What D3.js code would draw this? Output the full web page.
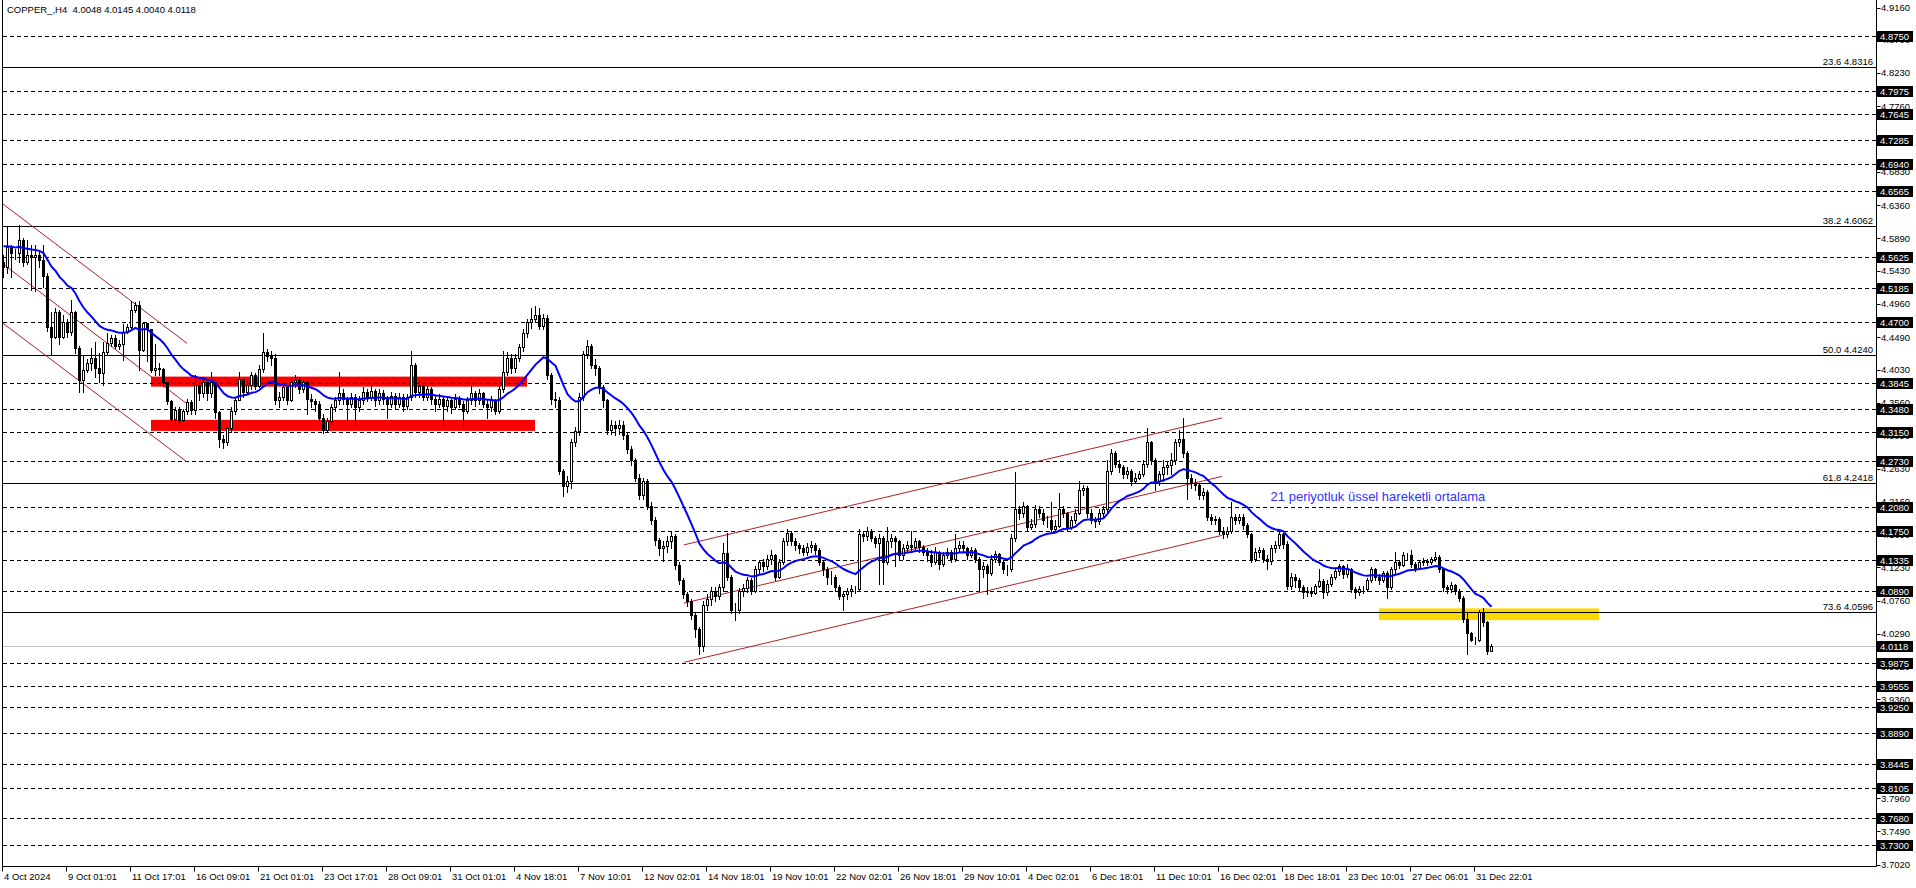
<!DOCTYPE html>
<html><head><meta charset="utf-8">
<script src="https://cdn.jsdelivr.net/npm/d3@7"></script>
<style>html,body{margin:0;padding:0;background:#fff;overflow:hidden}text{font-family:"Liberation Sans",Arial,sans-serif}</style>
</head><body><svg id="c" width="1916" height="888"></svg>
<script>
// ---- DATA (COPPER_, H4) ----
const firstOpen = 4.556;
const closes = [
4.548,4.577,4.568,4.568,4.586,4.556,4.565,4.563,4.566,4.559,4.536,4.464,4.450,4.485,4.450,4.471,4.456,4.484,4.434,4.389,
4.403,4.413,4.420,4.405,4.399,4.428,4.441,4.448,4.437,4.440,4.457,4.464,4.488,4.495,4.431,4.469,4.460,4.403,4.405,4.404,
4.386,4.359,4.333,4.346,4.332,4.344,4.357,4.346,4.381,4.370,4.385,4.370,4.386,4.343,4.305,4.300,4.320,4.345,4.360,4.390,
4.372,4.382,4.396,4.380,4.404,4.428,4.423,4.420,4.360,4.365,4.378,4.360,4.385,4.388,4.376,4.385,4.362,4.358,4.355,4.335,
4.318,4.330,4.350,4.360,4.370,4.362,4.355,4.365,4.350,4.360,4.372,4.365,4.373,4.360,4.370,4.362,4.355,4.366,4.355,4.365,
4.352,4.364,4.410,4.372,4.380,4.365,4.375,4.362,4.355,4.362,4.352,4.360,4.350,4.362,4.355,4.345,4.360,4.370,4.360,4.370,
4.355,4.350,4.360,4.345,4.375,4.400,4.420,4.405,4.420,4.435,4.455,4.470,4.475,4.480,4.465,4.476,4.395,4.362,4.360,4.260,
4.238,4.245,4.300,4.316,4.365,4.425,4.436,4.410,4.405,4.378,4.360,4.318,4.325,4.320,4.325,4.310,4.290,4.275,4.250,4.225,
4.245,4.210,4.190,4.162,4.150,4.153,4.160,4.168,4.127,4.105,4.085,4.075,4.055,4.035,4.012,4.070,4.078,4.090,4.083,4.095,
4.143,4.110,4.063,4.062,4.090,4.094,4.105,4.090,4.120,4.130,4.125,4.135,4.140,4.110,4.130,4.160,4.172,4.160,4.155,4.150,
4.145,4.152,4.155,4.148,4.130,4.120,4.110,4.110,4.095,4.082,4.085,4.090,4.093,4.092,4.170,4.168,4.175,4.165,4.158,4.165,
4.130,4.160,4.165,4.160,4.140,4.150,4.155,4.152,4.160,4.152,4.145,4.140,4.130,4.145,4.128,4.140,4.145,4.135,4.150,4.155,
4.150,4.140,4.148,4.135,4.120,4.125,4.115,4.135,4.142,4.130,4.120,4.120,4.165,4.205,4.200,4.210,4.180,4.185,4.205,4.200,
4.190,4.190,4.178,4.182,4.205,4.200,4.180,4.190,4.200,4.232,4.235,4.200,4.190,4.188,4.200,4.205,4.260,4.285,4.270,4.265,
4.255,4.260,4.245,4.250,4.255,4.270,4.300,4.275,4.245,4.255,4.265,4.268,4.275,4.300,4.305,4.285,4.250,4.243,4.240,4.225,
4.230,4.195,4.190,4.192,4.175,4.170,4.175,4.195,4.190,4.195,4.183,4.170,4.135,4.145,4.148,4.135,4.132,4.150,4.155,4.170,
4.156,4.097,4.110,4.105,4.095,4.088,4.090,4.087,4.097,4.103,4.088,4.100,4.110,4.118,4.125,4.113,4.120,4.092,4.088,4.092,
4.093,4.105,4.120,4.110,4.105,4.115,4.095,4.120,4.130,4.127,4.140,4.140,4.128,4.122,4.130,4.132,4.130,4.135,4.138,4.120,
4.095,4.092,4.098,4.090,4.080,4.050,4.030,4.020,4.020,4.060,4.045,4.0048,4.0118];
const highs = [
4.566,4.605,4.580,4.574,4.608,4.590,4.587,4.580,4.580,4.572,4.580,4.540,4.485,4.490,4.488,4.480,4.475,4.502,4.486,4.436,
4.424,4.418,4.434,4.442,4.426,4.442,4.455,4.452,4.452,4.445,4.467,4.468,4.500,4.499,4.500,4.470,4.468,4.460,4.440,4.412,
4.405,4.385,4.360,4.350,4.350,4.348,4.362,4.360,4.395,4.385,4.392,4.380,4.400,4.386,4.345,4.310,4.325,4.350,4.365,4.400,
4.390,4.388,4.400,4.398,4.410,4.455,4.432,4.430,4.425,4.372,4.385,4.380,4.390,4.395,4.392,4.390,4.388,4.368,4.362,4.358,
4.340,4.335,4.355,4.365,4.400,4.375,4.365,4.370,4.368,4.366,4.378,4.375,4.382,4.376,4.376,4.374,4.366,4.372,4.370,4.370,
4.368,4.368,4.430,4.412,4.388,4.384,4.380,4.378,4.366,4.368,4.365,4.365,4.362,4.368,4.366,4.358,4.364,4.380,4.373,4.375,
4.372,4.360,4.366,4.362,4.380,4.430,4.428,4.425,4.425,4.440,4.460,4.475,4.490,4.493,4.490,4.482,4.480,4.398,4.372,4.365,
4.262,4.252,4.305,4.322,4.370,4.430,4.445,4.440,4.418,4.408,4.382,4.362,4.332,4.330,4.332,4.330,4.315,4.295,4.278,4.255,
4.250,4.248,4.215,4.195,4.165,4.160,4.168,4.175,4.170,4.130,4.108,4.088,4.078,4.058,4.038,4.075,4.085,4.095,4.095,4.100,
4.157,4.171,4.112,4.072,4.094,4.100,4.110,4.108,4.125,4.134,4.135,4.140,4.148,4.142,4.135,4.165,4.177,4.175,4.165,4.158,
4.155,4.158,4.160,4.158,4.150,4.133,4.124,4.118,4.112,4.098,4.090,4.094,4.098,4.097,4.178,4.175,4.180,4.178,4.168,4.170,
4.168,4.180,4.170,4.168,4.162,4.156,4.160,4.175,4.165,4.162,4.155,4.150,4.148,4.152,4.146,4.145,4.150,4.148,4.170,4.160,
4.160,4.152,4.152,4.150,4.138,4.130,4.128,4.140,4.146,4.144,4.134,4.126,4.170,4.258,4.210,4.215,4.212,4.192,4.212,4.210,
4.205,4.196,4.215,4.190,4.228,4.210,4.202,4.196,4.205,4.245,4.240,4.238,4.205,4.195,4.205,4.210,4.275,4.290,4.288,4.275,
4.268,4.265,4.262,4.256,4.260,4.275,4.320,4.302,4.278,4.260,4.275,4.272,4.285,4.305,4.318,4.334,4.288,4.255,4.248,4.242,
4.236,4.232,4.198,4.196,4.195,4.180,4.180,4.215,4.198,4.198,4.198,4.186,4.172,4.150,4.152,4.150,4.140,4.155,4.160,4.175,
4.172,4.160,4.115,4.114,4.108,4.098,4.095,4.095,4.100,4.120,4.106,4.105,4.114,4.122,4.128,4.127,4.128,4.122,4.095,4.096,
4.097,4.108,4.124,4.122,4.113,4.118,4.118,4.124,4.145,4.134,4.145,4.144,4.148,4.130,4.133,4.136,4.135,4.138,4.145,4.140,
4.122,4.098,4.102,4.100,4.092,4.082,4.060,4.032,4.025,4.063,4.066,4.047,4.0145];
const lows = [
4.534,4.540,4.534,4.560,4.556,4.550,4.552,4.516,4.514,4.548,4.520,4.458,4.424,4.448,4.440,4.448,4.450,4.452,4.427,4.371,
4.371,4.400,4.403,4.393,4.386,4.381,4.425,4.437,4.434,4.432,4.417,4.455,4.462,4.484,4.403,4.430,4.415,4.400,4.395,4.396,
4.380,4.355,4.330,4.328,4.327,4.330,4.340,4.340,4.340,4.360,4.365,4.360,4.365,4.335,4.293,4.292,4.296,4.315,4.340,4.360,
4.365,4.368,4.375,4.375,4.378,4.400,4.415,4.410,4.355,4.350,4.360,4.355,4.358,4.378,4.370,4.372,4.340,4.350,4.345,4.330,
4.313,4.315,4.326,4.345,4.355,4.355,4.330,4.350,4.325,4.345,4.355,4.358,4.360,4.352,4.355,4.355,4.335,4.350,4.348,4.350,
4.345,4.348,4.360,4.365,4.365,4.360,4.360,4.355,4.345,4.350,4.323,4.345,4.342,4.348,4.350,4.323,4.342,4.355,4.352,4.355,
4.350,4.335,4.345,4.340,4.342,4.372,4.395,4.398,4.400,4.415,4.430,4.450,4.462,4.470,4.460,4.460,4.390,4.355,4.350,4.255,
4.224,4.230,4.235,4.295,4.310,4.360,4.420,4.405,4.395,4.370,4.350,4.312,4.312,4.310,4.312,4.305,4.285,4.268,4.245,4.220,
4.220,4.205,4.185,4.155,4.140,4.132,4.145,4.150,4.120,4.100,4.080,4.068,4.050,4.025,4.000,4.005,4.062,4.070,4.075,4.078,
4.090,4.105,4.058,4.048,4.058,4.082,4.088,4.085,4.088,4.115,4.118,4.120,4.128,4.105,4.108,4.128,4.155,4.155,4.148,4.143,
4.140,4.140,4.145,4.142,4.126,4.112,4.100,4.100,4.090,4.078,4.062,4.078,4.083,4.086,4.090,4.160,4.162,4.160,4.152,4.100,
4.100,4.128,4.152,4.125,4.135,4.135,4.145,4.148,4.148,4.145,4.140,4.132,4.125,4.128,4.120,4.125,4.136,4.130,4.132,4.145,
4.145,4.135,4.138,4.130,4.090,4.110,4.085,4.112,4.130,4.126,4.115,4.112,4.118,4.160,4.192,4.195,4.176,4.178,4.180,4.195,
4.185,4.180,4.172,4.175,4.180,4.195,4.176,4.178,4.186,4.198,4.225,4.195,4.186,4.180,4.185,4.195,4.200,4.255,4.265,4.258,
4.250,4.250,4.240,4.242,4.248,4.252,4.265,4.270,4.232,4.240,4.245,4.255,4.255,4.270,4.295,4.280,4.220,4.236,4.232,4.220,
4.220,4.190,4.184,4.185,4.170,4.165,4.166,4.172,4.185,4.186,4.178,4.166,4.130,4.132,4.138,4.130,4.120,4.128,4.145,4.150,
4.150,4.092,4.092,4.095,4.090,4.080,4.082,4.082,4.085,4.095,4.080,4.084,4.096,4.106,4.112,4.108,4.110,4.088,4.080,4.084,
4.086,4.090,4.102,4.105,4.100,4.102,4.080,4.092,4.115,4.122,4.125,4.134,4.124,4.118,4.120,4.126,4.126,4.128,4.132,4.116,
4.090,4.086,4.088,4.085,4.076,4.045,4.000,4.018,4.015,4.018,4.040,4.000,4.0040];

const emaPeriod = 21;
const emaSeed = 4.578;

const dashedLevels = [4.8750,4.7975,4.7645,4.7285,4.6940,4.6565,4.5625,4.5185,4.4700,4.3845,4.3480,4.3150,4.2730,4.2080,4.1750,4.1335,4.0890,3.9875,3.9555,3.9250,3.8890,3.8445,3.8105,3.7680,3.7300];
const currentPrice = 4.0118;
const fibLevels = ["23.6","38.2","50.0","61.8","73.6"];
const fibPrices = [4.8316,4.6062,4.4240,4.2418,4.0596];
const axisTicks = [4.9160,4.8700,4.8230,4.7760,4.7290,4.6830,4.6360,4.5890,4.5430,4.4960,4.4490,4.4030,4.3560,4.3090,4.2630,4.2160,4.1690,4.1230,4.0760,4.0290,3.9820,3.9360,3.8890,3.8420,3.7960,3.7490,3.7020];
const dateLabels = ["4 Oct 2024","9 Oct 01:01","11 Oct 17:01","16 Oct 09:01","21 Oct 01:01","23 Oct 17:01","28 Oct 09:01","31 Oct 01:01","4 Nov 18:01","7 Nov 10:01","12 Nov 02:01","14 Nov 18:01","19 Nov 10:01","22 Nov 02:01","26 Nov 18:01","29 Nov 10:01","4 Dec 02:01","6 Dec 18:01","11 Dec 10:01","16 Dec 02:01","18 Dec 18:01","23 Dec 10:01","27 Dec 06:01","31 Dec 22:01"];
const dateLabelStep = 16;
// zones: [barStart, barEnd, priceTop, priceBottom]
const redZones = [[37,131,4.3932,4.3790],[37,133,4.3319,4.3163]];
const yellowZone = [344,399,4.0649,4.0483];
// channels: [bar0, price0, bar1, price1]
const downChannel = [[-0.25,4.6387,46,4.4405],[-0.25,4.5538,46,4.3546],[-0.25,4.4697,46,4.2724]];
const upChannel = [[170.25,4.1549,304.75,4.3347],[170.25,4.0723,304.75,4.2518],[170.25,3.9885,304.75,4.1683]];
const annotation = {bar:316.9, price:4.2167, text:"21 periyotluk üssel hareketli ortalama"};
const titleText = "COPPER_,H4  4.0048 4.0145 4.0040 4.0118";

// ---- BUILD ----
const bars = closes.map((c,i)=>{
  const o = i===0 ? firstOpen : closes[i-1];
  return {i, o, c, h:Math.max(highs[i],o,c), l:Math.min(lows[i],o,c)};
});
const alpha = 2/(emaPeriod+1);
let e = emaSeed;
const ema = closes.map((c,i)=>{ e = i===0 ? emaSeed : e + alpha*(c-e); return {i, v:e}; });

const W=1916,H=888, plotL=2.5, plotR=1876.5, plotB=866.5;
const x = d3.scaleLinear().domain([0,372]).range([3,1491]);
const y = d3.scaleLinear().domain([4.916,3.702]).range([7.5,864.6]);
const svg = d3.select("#c");
svg.append("rect").attr("width",W).attr("height",H).attr("fill","#fff");
const plot = svg.append("g");
const py = p => Math.round(y(p))+0.5;

// zones
plot.selectAll(".rz").data(redZones).join("rect")
  .attr("x",d=>x(d[0])).attr("width",d=>x(d[1])-x(d[0]))
  .attr("y",d=>y(d[2])).attr("height",d=>y(d[3])-y(d[2])).attr("fill","#ff0000");
plot.append("rect").datum(yellowZone)
  .attr("x",d=>x(d[0])).attr("width",d=>x(d[1])-x(d[0]))
  .attr("y",d=>y(d[2])).attr("height",d=>y(d[3])-y(d[2])).attr("fill","#ffd700");

// horizontal lines
plot.selectAll(".dl").data(dashedLevels).join("line")
  .attr("x1",plotL).attr("x2",plotR).attr("y1",py).attr("y2",py)
  .attr("stroke","#000").attr("stroke-width",1).attr("stroke-dasharray","4,3").attr("shape-rendering","crispEdges");
plot.append("line").attr("x1",plotL).attr("x2",plotR).attr("y1",py(currentPrice)).attr("y2",py(currentPrice))
  .attr("stroke","#c0c0c0").attr("shape-rendering","crispEdges");
plot.selectAll(".fl").data(fibPrices).join("line")
  .attr("x1",plotL).attr("x2",plotR).attr("y1",py).attr("y2",py)
  .attr("stroke","#000").attr("stroke-width",1).attr("shape-rendering","crispEdges");
plot.selectAll(".ft").data(fibPrices).join("text")
  .attr("x",1873).attr("y",d=>py(d)-2.5).attr("text-anchor","end")
  .attr("font-size","9.5px").attr("fill","#000").text((d,i)=>fibLevels[i]+" "+d.toFixed(4));

// channels
plot.selectAll(".ch").data(downChannel.concat(upChannel)).join("line")
  .attr("x1",d=>x(d[0])).attr("y1",d=>y(d[1])).attr("x2",d=>x(d[2])).attr("y2",d=>y(d[3]))
  .attr("stroke","#b22222").attr("stroke-width",1);

// candles
const cg = plot.append("g").attr("shape-rendering","crispEdges");
cg.selectAll(".w").data(bars).join("line")
  .attr("x1",d=>Math.round(x(d.i))+0.5).attr("x2",d=>Math.round(x(d.i))+0.5)
  .attr("y1",d=>Math.round(y(d.h))).attr("y2",d=>Math.round(y(d.l))+1)
  .attr("stroke","#000");
cg.selectAll(".b").data(bars).join("rect")
  .attr("x",d=>Math.round(x(d.i))-0.5).attr("width",2)
  .attr("y",d=>Math.round(y(Math.max(d.o,d.c)))+0.5)
  .attr("height",d=>Math.max(0,Math.round(y(Math.min(d.o,d.c)))-Math.round(y(Math.max(d.o,d.c)))))
  .attr("fill",d=>d.c>=d.o?"#fff":"#000").attr("stroke","#000").attr("stroke-width",1);

// EMA
plot.append("path").datum(ema)
  .attr("d",d3.line().x(d=>x(d.i)+0.5).y(d=>y(d.v)))
  .attr("fill","none").attr("stroke","#0000ff").attr("stroke-width",2);

// annotation
plot.append("text").attr("x",x(annotation.bar)).attr("y",y(annotation.price))
  .attr("font-size","13px").attr("fill","#3232ff").text(annotation.text);

// frame
svg.append("line").attr("x1",plotL).attr("x2",plotL).attr("y1",0).attr("y2",plotB).attr("stroke","#000");
svg.append("line").attr("x1",plotR).attr("x2",plotR).attr("y1",0).attr("y2",plotB).attr("stroke","#000");
svg.append("line").attr("x1",plotL).attr("x2",plotR).attr("y1",plotB).attr("y2",plotB).attr("stroke","#000");

// right axis ticks
const ax = svg.append("g");
ax.selectAll(".tk").data(axisTicks).join("line")
  .attr("x1",plotR).attr("x2",plotR+4).attr("y1",py).attr("y2",py).attr("stroke","#000");
ax.selectAll(".tl").data(axisTicks).join("text")
  .attr("x",1881).attr("y",d=>y(d)).attr("dy","0.35em").attr("font-size","9.5px").attr("fill","#000")
  .text(d=>d.toFixed(4));
const boxLevels = dashedLevels.concat([currentPrice]);
const bx = ax.selectAll(".bx").data(boxLevels).join("g");
bx.append("rect").attr("x",1877).attr("width",36).attr("y",d=>Math.round(y(d))-5).attr("height",11).attr("fill","#000");
bx.append("text").attr("x",1880).attr("y",d=>Math.round(y(d))+0.5).attr("dy","0.35em")
  .attr("font-size","9.5px").attr("fill","#fff").text(d=>d.toFixed(4));

// date axis
const dg = svg.append("g");
dg.selectAll(".dt").data(dateLabels).join("line")
  .attr("x1",(d,k)=>Math.round(x(k*dateLabelStep))-0.5).attr("x2",(d,k)=>Math.round(x(k*dateLabelStep))-0.5)
  .attr("y1",plotB).attr("y2",plotB+5).attr("stroke","#000");
dg.selectAll(".dtx").data(dateLabels).join("text")
  .attr("x",(d,k)=>Math.round(x(k*dateLabelStep))+1).attr("y",879.5)
  .attr("font-size","9.5px").attr("fill","#000").text(d=>d);

// title
svg.append("text").attr("x",7).attr("y",13).attr("font-size","9.5px").attr("fill","#000")
  .attr("xml:space","preserve").style("white-space","pre").text(titleText);
</script></body></html>
